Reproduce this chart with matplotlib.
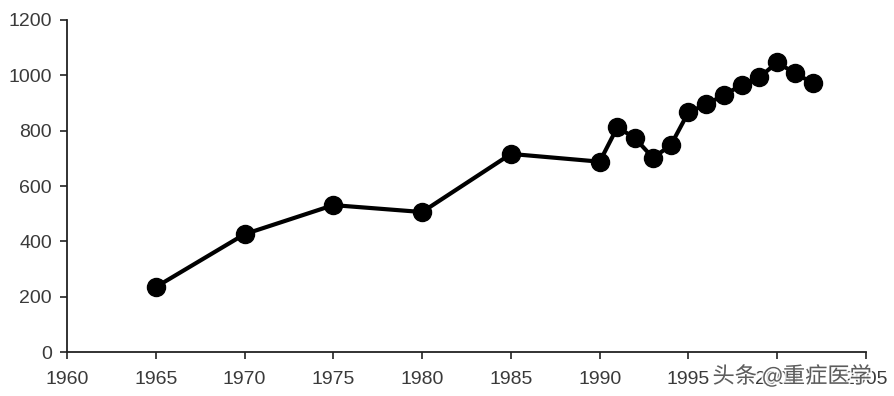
import matplotlib
matplotlib.use("Agg")
import matplotlib.pyplot as plt
import matplotlib.patheffects as pe

years = [1965, 1970, 1975, 1980, 1985, 1990, 1991, 1992, 1993, 1994, 1995,
         1996, 1997, 1998, 1999, 2000, 2001, 2002]
values = [235, 426, 531, 506, 716, 688, 813, 772, 702, 747, 867,
          895, 929, 965, 993, 1047, 1007, 973]
x_ticks = list(range(1960, 2006, 5))
y_ticks = list(range(0, 1201, 200))

plt.rcParams['font.family'] = ['Liberation Sans', 'DejaVu Sans']

fig = plt.figure(figsize=(8.94, 3.96), dpi=100)
ax = fig.add_axes([0.075, 0.111, 0.8937, 0.8385])
ax.plot(years, values, color='black', lw=3, marker='o', ms=13,
        markerfacecolor='black', markeredgecolor='black', clip_on=False)
ax.set_xlim(1960, 2005)
ax.set_ylim(0, 1200)
ax.set_xticks(x_ticks)
ax.set_yticks(y_ticks)
for s in ['top', 'right']:
    ax.spines[s].set_visible(False)
for s in ['left', 'bottom']:
    ax.spines[s].set_linewidth(1.3)
    ax.spines[s].set_color('#222222')
ax.tick_params(direction='out', length=5, width=1.2, labelsize=14,
               labelcolor='#3a3a3a', color='#222222')
ax.tick_params(axis='x', pad=9)
ax.tick_params(axis='y', pad=6)

fig.text(0.797, 0.033, '头条 @重症医学', fontsize=16, color='#444444', alpha=0.85,
         family=['Noto Sans CJK SC', 'DejaVu Sans'],
         path_effects=[pe.withStroke(linewidth=2.5, foreground='white')])

fig.savefig('out.png', dpi=100, facecolor='white')
